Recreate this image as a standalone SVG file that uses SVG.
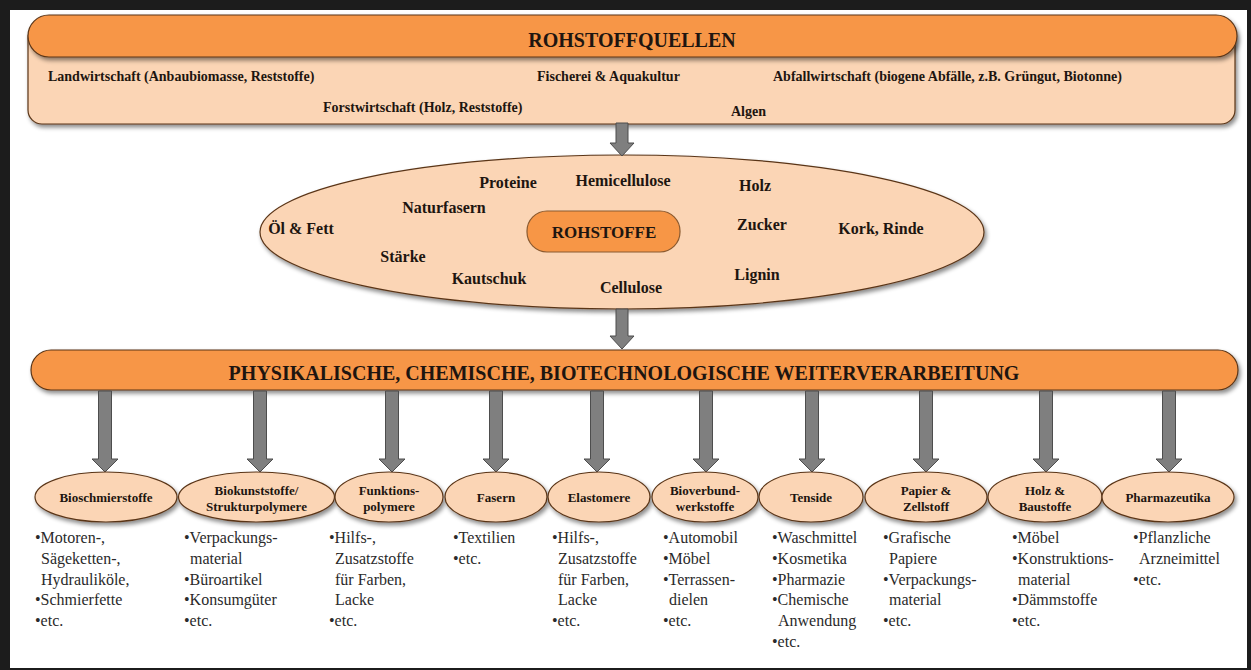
<svg xmlns="http://www.w3.org/2000/svg" width="1251" height="670" viewBox="0 0 1251 670">
<defs>
<filter id="sh" x="-5%" y="-20%" width="110%" height="150%">
<feDropShadow dx="2" dy="3" stdDeviation="2" flood-color="#000" flood-opacity="0.45"/>
</filter>
<style>
.frame{fill:#1c1c1c}
.paper{fill:#ffffff}
.peach{fill:#fbd5b5;stroke:#5a3518;stroke-width:1.2}
.orange{fill:#f79646;stroke:#5a3518;stroke-width:1.2}
.inner{fill:#f79646;stroke:#8a5a30;stroke-width:1.2}
.arrow{fill:#7f7f7f;stroke:#4d4d4d;stroke-width:1}
text{font-family:"Liberation Serif","Times New Roman",serif;fill:#1e1510}
.title{font-size:20px;font-weight:bold;text-anchor:middle}
.src{font-size:14px;font-weight:bold}
.raw{font-size:16px;font-weight:bold;text-anchor:middle}
.prod{font-size:13px;font-weight:bold;text-anchor:middle}
.list{font-size:16px;fill:#2a2a2a}
</style>
</defs>
<g id="frame">
<rect class="frame" x="0" y="0" width="1251" height="670"/>
<rect class="paper" x="10" y="10" width="1237" height="658"/>
</g>
<g id="rohstoffquellen">
<rect class="peach" x="28" y="24" width="1207" height="100" rx="14" filter="url(#sh)"/>
<rect class="orange" x="28" y="15" width="1209" height="42" rx="21" filter="url(#sh)"/>
<text class="title" x="632" y="47">ROHSTOFFQUELLEN</text>
<text class="src" x="48" y="81">Landwirtschaft (Anbaubiomasse, Reststoffe)</text>
<text class="src" x="537" y="81">Fischerei &amp; Aquakultur</text>
<text class="src" x="773" y="81">Abfallwirtschaft (biogene Abfälle, z.B. Grüngut, Biotonne)</text>
<text class="src" x="323" y="112">Forstwirtschaft (Holz, Reststoffe)</text>
<text class="src" x="731" y="116">Algen</text>
</g>
<g id="rohstoffe">
<ellipse class="peach" cx="622" cy="232" rx="362" ry="77" filter="url(#sh)"/>
<rect class="inner" x="527" y="211" width="153" height="41" rx="20"/>
<text class="title" x="604" y="238" style="font-size:17px">ROHSTOFFE</text>
<text class="raw" x="508" y="188">Proteine</text>
<text class="raw" x="623" y="186">Hemicellulose</text>
<text class="raw" x="755" y="191">Holz</text>
<text class="raw" x="444" y="213">Naturfasern</text>
<text class="raw" x="301" y="234">Öl &amp; Fett</text>
<text class="raw" x="762" y="230">Zucker</text>
<text class="raw" x="881" y="234">Kork, Rinde</text>
<text class="raw" x="403" y="262">Stärke</text>
<text class="raw" x="489" y="284">Kautschuk</text>
<text class="raw" x="631" y="293">Cellulose</text>
<text class="raw" x="757" y="280">Lignin</text>
</g>
<g id="weiterverarbeitung">
<rect class="orange" x="31" y="350" width="1207" height="40" rx="20" filter="url(#sh)"/>
<text class="title" x="624" y="380">PHYSIKALISCHE, CHEMISCHE, BIOTECHNOLOGISCHE WEITERVERARBEITUNG</text>
</g>
<g id="connectors">
<path class="arrow" d="M616,123 H628 V143 H634 L622,156 L610,143 H616 Z"/>
<path class="arrow" d="M616,309 H628 V336 H634 L622,349 L610,336 H616 Z"/>
<path class="arrow" d="M98.5,391 H111.5 V459 H118 L105,472 L92,459 H98.5 Z"/>
<path class="arrow" d="M253.5,391 H266.5 V459 H273 L260,472 L247,459 H253.5 Z"/>
<path class="arrow" d="M385.5,391 H398.5 V459 H405 L392,472 L379,459 H385.5 Z"/>
<path class="arrow" d="M489.5,391 H502.5 V459 H509 L496,472 L483,459 H489.5 Z"/>
<path class="arrow" d="M590.5,391 H603.5 V459 H610 L597,472 L584,459 H590.5 Z"/>
<path class="arrow" d="M699.5,391 H712.5 V459 H719 L706,472 L693,459 H699.5 Z"/>
<path class="arrow" d="M805.5,391 H818.5 V459 H825 L812,472 L799,459 H805.5 Z"/>
<path class="arrow" d="M919.5,391 H932.5 V459 H939 L926,472 L913,459 H919.5 Z"/>
<path class="arrow" d="M1039.5,391 H1052.5 V459 H1059 L1046,472 L1033,459 H1039.5 Z"/>
<path class="arrow" d="M1162.5,391 H1175.5 V459 H1182 L1169,472 L1156,459 H1162.5 Z"/>
</g>
<g id="bioschmierstoffe">
<ellipse class="peach" cx="106" cy="497" rx="71" ry="25" filter="url(#sh)"/>
<text class="prod" x="106" y="502">Bioschmierstoffe</text>
<text class="list" x="35" y="543">•Motoren-,</text>
<text class="list" x="41" y="564">Sägeketten-,</text>
<text class="list" x="41" y="585">Hydrauliköle,</text>
<text class="list" x="35" y="605">•Schmierfette</text>
<text class="list" x="35" y="626">•etc.</text>
</g>
<g id="biokunststoffe">
<ellipse class="peach" cx="256.5" cy="497" rx="78" ry="25" filter="url(#sh)"/>
<text class="prod" x="256.5" y="495">Biokunststoffe/</text>
<text class="prod" x="256.5" y="511">Strukturpolymere</text>
<text class="list" x="184" y="543">•Verpackungs-</text>
<text class="list" x="190" y="564">material</text>
<text class="list" x="184" y="585">•Büroartikel</text>
<text class="list" x="184" y="605">•Konsumgüter</text>
<text class="list" x="184" y="626">•etc.</text>
</g>
<g id="funktionspolymere">
<ellipse class="peach" cx="389" cy="497" rx="54" ry="25" filter="url(#sh)"/>
<text class="prod" x="389" y="495">Funktions-</text>
<text class="prod" x="389" y="511">polymere</text>
<text class="list" x="329" y="543">•Hilfs-,</text>
<text class="list" x="335" y="564">Zusatzstoffe</text>
<text class="list" x="335" y="585">für Farben,</text>
<text class="list" x="335" y="605">Lacke</text>
<text class="list" x="329" y="626">•etc.</text>
</g>
<g id="fasern">
<ellipse class="peach" cx="496" cy="497" rx="51" ry="25" filter="url(#sh)"/>
<text class="prod" x="496" y="502">Fasern</text>
<text class="list" x="453" y="543">•Textilien</text>
<text class="list" x="453" y="564">•etc.</text>
</g>
<g id="elastomere">
<ellipse class="peach" cx="599" cy="497" rx="51" ry="25" filter="url(#sh)"/>
<text class="prod" x="599" y="502">Elastomere</text>
<text class="list" x="552" y="543">•Hilfs-,</text>
<text class="list" x="558" y="564">Zusatzstoffe</text>
<text class="list" x="558" y="585">für Farben,</text>
<text class="list" x="558" y="605">Lacke</text>
<text class="list" x="552" y="626">•etc.</text>
</g>
<g id="bioverbundwerkstoffe">
<ellipse class="peach" cx="705" cy="497" rx="53" ry="25" filter="url(#sh)"/>
<text class="prod" x="705" y="495">Bioverbund-</text>
<text class="prod" x="705" y="511">werkstoffe</text>
<text class="list" x="663" y="543">•Automobil</text>
<text class="list" x="663" y="564">•Möbel</text>
<text class="list" x="663" y="585">•Terrassen-</text>
<text class="list" x="669" y="605">dielen</text>
<text class="list" x="663" y="626">•etc.</text>
</g>
<g id="tenside">
<ellipse class="peach" cx="811" cy="497" rx="52" ry="25" filter="url(#sh)"/>
<text class="prod" x="811" y="502">Tenside</text>
<text class="list" x="772" y="543">•Waschmittel</text>
<text class="list" x="772" y="564">•Kosmetika</text>
<text class="list" x="772" y="585">•Pharmazie</text>
<text class="list" x="772" y="605">•Chemische</text>
<text class="list" x="778" y="626">Anwendung</text>
<text class="list" x="772" y="647">•etc.</text>
</g>
<g id="papier">
<ellipse class="peach" cx="926" cy="497" rx="61" ry="25" filter="url(#sh)"/>
<text class="prod" x="926" y="495">Papier &amp;</text>
<text class="prod" x="926" y="511">Zellstoff</text>
<text class="list" x="883" y="543">•Grafische</text>
<text class="list" x="889" y="564">Papiere</text>
<text class="list" x="883" y="585">•Verpackungs-</text>
<text class="list" x="889" y="605">material</text>
<text class="list" x="883" y="626">•etc.</text>
</g>
<g id="holz">
<ellipse class="peach" cx="1045" cy="497" rx="57" ry="25" filter="url(#sh)"/>
<text class="prod" x="1045" y="495">Holz &amp;</text>
<text class="prod" x="1045" y="511">Baustoffe</text>
<text class="list" x="1012" y="543">•Möbel</text>
<text class="list" x="1012" y="564">•Konstruktions-</text>
<text class="list" x="1018" y="585">material</text>
<text class="list" x="1012" y="605">•Dämmstoffe</text>
<text class="list" x="1012" y="626">•etc.</text>
</g>
<g id="pharmazeutika">
<ellipse class="peach" cx="1168" cy="497" rx="66" ry="25" filter="url(#sh)"/>
<text class="prod" x="1168" y="502">Pharmazeutika</text>
<text class="list" x="1133" y="543">•Pflanzliche</text>
<text class="list" x="1139" y="564">Arzneimittel</text>
<text class="list" x="1133" y="585">•etc.</text>
</g>
</svg>
